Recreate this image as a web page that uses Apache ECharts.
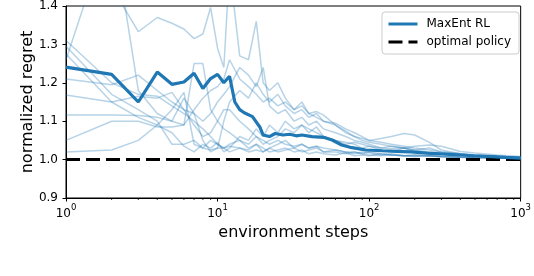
<!DOCTYPE html>
<html>
<head>
<meta charset="utf-8">
<script src="https://cdn.jsdelivr.net/npm/echarts@6/dist/echarts.min.js"></script>
<style>html,body{margin:0;padding:0;background:#fff;}#c{width:534px;height:276px;}</style>
</head>
<body>
<div id="c"></div>
<script>
// ---- data ----
const mainSteps = [1,2,3,4,5,6,7,8,9,10,11,12,13,14,15,17,19,20,22,24,27,30,33,36,42,50,57,66,77,95,122,165,190,240,295,400,485,650,800,1000];
const mainValues = [1.241,1.222,1.150,1.228,1.196,1.202,1.225,1.185,1.211,1.222,1.200,1.217,1.150,1.130,1.122,1.112,1.085,1.064,1.060,1.068,1.064,1.066,1.062,1.064,1.060,1.058,1.051,1.038,1.031,1.025,1.023,1.021,1.020,1.017,1.015,1.012,1.010,1.008,1.006,1.004];

const runSteps = [1,2,3,4,5,6,7,8,9,10,11,12,14,16,18,20,22,25,28,32,36,40,45,50,60,70,80,90,100,120,140,170,200,250,300,400,500,700,1000];
const run1 = [1.31,1.20,1.17,1.165,1.14,1.12,1.10,1.08,1.06,1.04,1.03,1.035,1.03,1.025,1.04,1.03,1.02,1.025,1.03,1.02,1.025,1.015,1.02,1.015,1.012,1.018,1.01,1.012,1.01,1.015,1.012,1.01,1.008,1.01,1.008,1.006,1.005,1.004,1.003];
const run2 = [1.295,1.17,1.13,1.10,1.04,1.04,1.05,1.03,1.05,1.04,1.03,1.04,1.05,1.03,1.04,1.02,1.03,1.04,1.05,1.03,1.04,1.03,1.035,1.02,1.025,1.02,1.015,1.02,1.018,1.012,1.015,1.01,1.012,1.01,1.008,1.007,1.006,1.005,1.004];
const run3 = [1.275,1.15,1.11,1.09,1.07,1.035,1.02,1.04,1.03,1.045,1.02,1.03,1.06,1.05,1.08,1.06,1.09,1.07,1.10,1.08,1.09,1.07,1.085,1.06,1.05,1.045,1.04,1.03,1.035,1.025,1.02,1.03,1.025,1.02,1.015,1.012,1.01,1.008,1.006];
const run4 = [1.26,1.62,1.18,1.12,1.10,1.16,1.12,1.05,1.02,1.03,1.10,1.15,1.18,1.16,1.20,1.17,1.15,1.17,1.14,1.12,1.13,1.11,1.12,1.10,1.09,1.07,1.06,1.05,1.045,1.04,1.035,1.03,1.025,1.03,1.02,1.015,1.012,1.008,1.005];
const run5 = [1.65,1.45,1.333,1.37,1.355,1.34,1.315,1.327,1.396,1.29,1.24,1.50,1.27,1.26,1.36,1.20,1.18,1.20,1.16,1.13,1.15,1.12,1.125,1.116,1.09,1.075,1.06,1.055,1.05,1.045,1.04,1.035,1.03,1.025,1.02,1.015,1.012,1.009,1.006];
const run6 = [1.21,1.195,1.22,1.18,1.15,1.13,1.12,1.10,1.12,1.15,1.17,1.19,1.24,1.22,1.19,1.24,1.14,1.12,1.13,1.10,1.11,1.09,1.10,1.08,1.07,1.06,1.05,1.045,1.04,1.03,1.035,1.03,1.02,1.018,1.015,1.012,1.01,1.007,1.005];
const run7 = [1.168,1.15,1.165,1.16,1.175,1.13,1.09,1.06,1.07,1.10,1.13,1.13,1.10,1.08,1.06,1.05,1.04,1.05,1.04,1.035,1.04,1.03,1.035,1.03,1.025,1.02,1.02,1.015,1.02,1.015,1.012,1.01,1.012,1.01,1.008,1.006,1.005,1.004,1.003];
const run8 = [1.116,1.116,1.115,1.11,1.10,1.09,1.13,1.16,1.18,1.19,1.21,1.26,1.21,1.19,1.17,1.15,1.16,1.14,1.15,1.13,1.14,1.12,1.11,1.10,1.095,1.08,1.07,1.06,1.05,1.055,1.06,1.068,1.064,1.045,1.025,1.015,1.01,1.008,1.005];
const run9 = [1.05,1.10,1.10,1.085,1.085,1.09,1.25,1.25,1.13,1.10,1.08,1.07,1.05,1.04,1.06,1.04,1.05,1.06,1.08,1.07,1.09,1.08,1.07,1.06,1.05,1.04,1.045,1.04,1.035,1.03,1.028,1.03,1.035,1.038,1.035,1.021,1.017,1.012,1.008];
const run10 = [1.02,1.025,1.05,1.09,1.13,1.175,1.04,1.03,1.025,1.03,1.03,1.02,1.03,1.02,1.025,1.02,1.03,1.02,1.025,1.03,1.02,1.025,1.03,1.02,1.02,1.015,1.02,1.015,1.012,1.01,1.012,1.01,1.008,1.01,1.007,1.006,1.005,1.004,1.003];
const runs = [run1,run2,run3,run4,run5,run6,run7,run8,run9,run10];

const optimalSteps = [1, 1000];
const optimalValues = [1.0, 1.0];

const minorTicks = [2,3,4,5,6,7,8,9,20,30,40,50,60,70,80,90,200,300,400,500,600,700,800,900];

const seriesNames = ['MaxEnt RL', 'optimal policy'];
const xLabel = 'environment steps';
const yLabel = 'normalized regret';

// ---- chart ----
const FONT = 'DejaVu Sans';
const BLUE = '#1f77b4';
const zip = (xs, ys) => xs.map((x, i) => [x, ys[i]]);

const series = [];
runs.forEach((r, i) => {
  series.push({
    type: 'line', name: 'run' + (i + 1), data: zip(runSteps, r),
    showSymbol: false, symbol: 'none', silent: true, z: 2,
    lineStyle: { color: BLUE, width: 1.5, opacity: 0.32 }
  });
});
series.push({
  type: 'line', name: seriesNames[1], data: zip(optimalSteps, optimalValues),
  symbol: 'none', z: 3, color: '#000',
  lineStyle: { color: '#000', width: 3, type: [14, 6] }
});
series.push({
  type: 'line', name: seriesNames[0], data: zip(mainSteps, mainValues),
  symbol: 'none', z: 4, color: BLUE,
  lineStyle: { color: BLUE, width: 3.2 }
});
series.push({
  type: 'custom', name: 'minor', clip: false, silent: true, z: 10,
  data: minorTicks.map(v => [v, 0.9]),
  renderItem: (params, api) => {
    const p = api.coord([api.value(0), api.value(1)]);
    return { type: 'line', shape: { x1: p[0], y1: p[1], x2: p[0], y2: p[1] + 2 },
             style: { stroke: '#000', lineWidth: 0.8 } };
  }
});

const option = {
  animation: false,
  backgroundColor: '#fff',
  textStyle: { fontFamily: FONT },
  grid: { left: 66, right: 10, top: 5, bottom: 78, show: true, borderColor: '#000', borderWidth: 1, backgroundColor: 'transparent' },
  legend: {
    data: seriesNames, orient: 'vertical', right: 15, top: 12,
    backgroundColor: 'rgba(255,255,255,0.85)', borderColor: '#ccc', borderWidth: 1, borderRadius: 3,
    padding: [6, 8, 6, 5], itemGap: 6, itemWidth: 29, itemHeight: 12,
    itemStyle: { opacity: 0, borderWidth: 0 },
    lineStyle: { width: 3 },
    textStyle: { fontFamily: FONT, fontSize: 12, color: '#000', padding: [0, 0, 0, 4] }
  },
  xAxis: {
    type: 'log', logBase: 10, min: 1, max: 1000,
    name: xLabel, nameLocation: 'middle', nameGap: 25,
    nameTextStyle: { fontFamily: FONT, fontSize: 16, color: '#000' },
    axisLine: { show: true, lineStyle: { color: '#000', width: 1 } },
    axisTick: { show: true, inside: false, length: 3.5, lineStyle: { color: '#000' } },
    splitLine: { show: false },
    axisLabel: {
      margin: 5, color: '#000',
      formatter: v => '{b|10}{s|' + Math.round(Math.log10(v)) + '}',
      rich: {
        b: { fontFamily: FONT, fontSize: 12, color: '#000', verticalAlign: 'bottom', lineHeight: 17 },
        s: { fontFamily: FONT, fontSize: 8.5, color: '#000', verticalAlign: 'top', lineHeight: 10 }
      }
    }
  },
  yAxis: {
    type: 'value', min: 0.9, max: 1.4, interval: 0.1,
    name: yLabel, nameLocation: 'middle', nameGap: 30, nameMoveOverlap: false,
    nameTextStyle: { fontFamily: FONT, fontSize: 16, color: '#000' },
    axisLine: { show: true, lineStyle: { color: '#000', width: 1 } },
    axisTick: { show: true, inside: false, length: 3.5, lineStyle: { color: '#000' } },
    splitLine: { show: false },
    axisLabel: { margin: 8, fontFamily: FONT, fontSize: 12, color: '#000', formatter: v => v.toFixed(1) }
  },
  series: series
};

const chart = echarts.init(document.getElementById('c'), null, { renderer: 'canvas' });
chart.setOption(option);
</script>
</body>
</html>
